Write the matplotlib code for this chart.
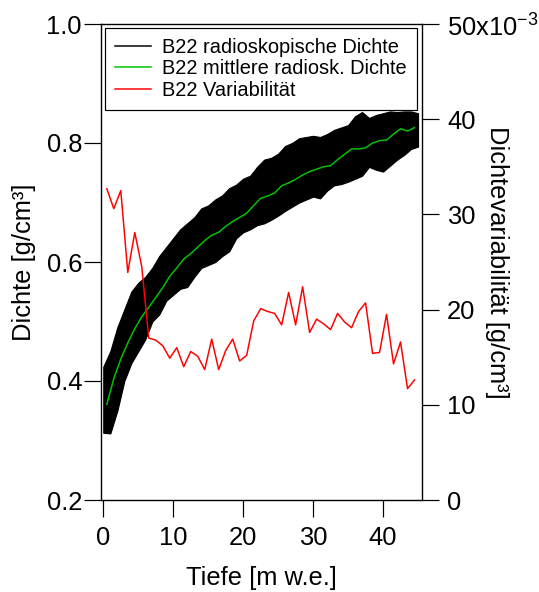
import numpy as np
import matplotlib
matplotlib.use('Agg')
import matplotlib.pyplot as plt

plt.rcParams['font.family'] = ['Liberation Sans', 'DejaVu Sans']
plt.rcParams['mathtext.fontset'] = 'custom'
plt.rcParams['mathtext.rm'] = 'Liberation Sans'

# --- Daten ---
# radioskopische Dichte: obere / untere Hüllkurve des verrauschten Signals
tiefe_band = list(range(46))
dichte_oben = [0.424, 0.450, 0.490, 0.520, 0.550, 0.565, 0.575, 0.590, 0.610, 0.625,
               0.640, 0.655, 0.665, 0.675, 0.690, 0.695, 0.705, 0.712, 0.724, 0.730,
               0.740, 0.745, 0.760, 0.772, 0.775, 0.782, 0.795, 0.800, 0.808, 0.810,
               0.812, 0.810, 0.815, 0.822, 0.826, 0.830, 0.845, 0.852, 0.842, 0.847,
               0.850, 0.853, 0.852, 0.853, 0.853, 0.850]
dichte_unten = [0.313, 0.312, 0.350, 0.400, 0.430, 0.450, 0.470, 0.500, 0.512, 0.535,
                0.545, 0.555, 0.558, 0.575, 0.590, 0.595, 0.600, 0.610, 0.618, 0.640,
                0.650, 0.655, 0.662, 0.665, 0.671, 0.678, 0.686, 0.693, 0.700, 0.705,
                0.710, 0.707, 0.720, 0.729, 0.731, 0.735, 0.740, 0.745, 0.760, 0.755,
                0.752, 0.762, 0.772, 0.780, 0.790, 0.794]

# Mittelwerte und Variabilität je Meter
tiefe_mittel = np.arange(0.5, 45.0, 1.0)
dichte_mittel = [0.361, 0.404, 0.437, 0.464, 0.488, 0.508, 0.524, 0.540, 0.557, 0.576,
                 0.590, 0.605, 0.614, 0.625, 0.636, 0.645, 0.650, 0.660, 0.668, 0.675,
                 0.682, 0.695, 0.707, 0.711, 0.716, 0.728, 0.733, 0.739, 0.746, 0.752,
                 0.756, 0.760, 0.762, 0.772, 0.781, 0.790, 0.790, 0.792, 0.800, 0.804,
                 0.805, 0.815, 0.824, 0.820, 0.826]
variabilitaet = [32.7, 30.6, 32.5, 23.9, 28.1, 24.5, 17.0, 16.8, 16.2, 14.9,
                 16.0, 14.0, 15.6, 15.1, 13.7, 16.9, 13.7, 15.7, 16.9, 14.6,
                 15.2, 18.8, 20.1, 19.8, 19.6, 18.4, 21.8, 18.4, 22.4, 17.6,
                 19.0, 18.5, 17.9, 19.6, 18.7, 18.1, 19.8, 20.7, 15.4, 15.5,
                 19.5, 14.3, 16.6, 11.7, 12.6]  # in 1e-3 g/cm3

links_ticks = [0.2, 0.4, 0.6, 0.8, 1.0]
rechts_ticks = [0, 10, 20, 30, 40, 50]
rechts_labels = ['0', '10', '20', '30', '40', '50x10$^{\\mathregular{-3}}$']
x_ticks = [0, 10, 20, 30, 40]

# --- Abbildung ---
W, H = 539, 592
fig = plt.figure(figsize=(W / 72, H / 72), dpi=72)
ax = fig.add_axes([101 / W, 92 / H, 321 / W, 476 / H])
ax2 = ax.twinx()

ax.fill_between(tiefe_band, dichte_unten, dichte_oben, color='black', lw=1.2)
l1, = ax.plot([], [], color='black', lw=1.5, label='B22 radioskopische Dichte')
l2, = ax.plot(tiefe_mittel, dichte_mittel, color='#00c400', lw=1.5,
              label='B22 mittlere radiosk. Dichte')
l3, = ax2.plot(tiefe_mittel, variabilitaet, color='#ff0000',
               lw=1.5, label='B22 Variabilität')

ax.set_xlim(-0.33, 45.57)
ax.set_ylim(0.2, 1.0)
ax2.set_ylim(0, 50)

ax.set_xticks(x_ticks)
ax.set_yticks(links_ticks)
ax.set_yticklabels([f'{v:.1f}' for v in links_ticks])
ax2.set_yticks(rechts_ticks)
ax2.set_yticklabels(rechts_labels)

for a in (ax, ax2):
    for s in a.spines.values():
        s.set_linewidth(1.2)
ax.tick_params(axis='both', direction='out', length=17, width=1.2, labelsize=25.5)
ax.tick_params(axis='y', pad=2)
ax.tick_params(axis='x', pad=9)
ax2.tick_params(axis='y', direction='out', length=17, width=1.2, labelsize=25.5, pad=8)

ax.set_xlabel('Tiefe [m w.e.]', fontsize=25.5, va='center')
ax.xaxis.set_label_coords(0.5, -0.164)
ax.set_ylabel('Dichte [g/cm³]', fontsize=25.5, va='center')
ax.yaxis.set_label_coords(-0.240, 0.5)
ax2.set_ylabel('Dichtevariabilität [g/cm³]', fontsize=25.5, rotation=-90,
               va='center', ha='center')
ax2.yaxis.set_label_coords(1.234, 0.5)

leg = ax2.legend(handles=[l1, l2, l3], loc='upper left', bbox_to_anchor=(0.014, 0.992),
                 borderaxespad=0, fontsize=20, frameon=True, fancybox=False,
                 framealpha=1, edgecolor='black', handlelength=1.8, handletextpad=0.55,
                 labelspacing=0.12, borderpad=0.5)
leg.get_frame().set_linewidth(1.2)

fig.savefig('out.png', dpi=72)
